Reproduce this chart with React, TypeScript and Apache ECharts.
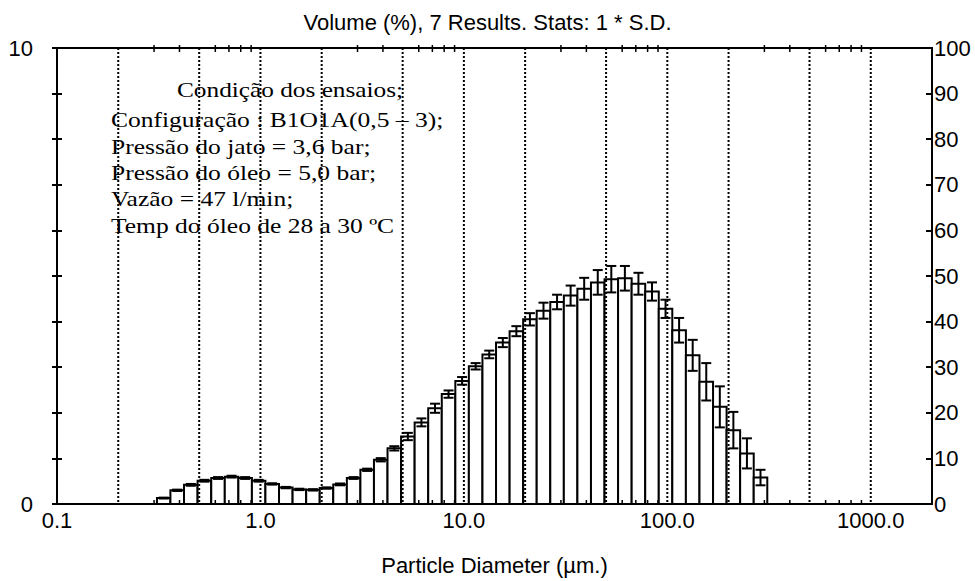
import React, { useEffect, useRef } from 'react';
import * as echarts from 'echarts';

// Bin edges of the size classes (µm)
const binEdges = [
  0.310, 0.361, 0.421, 0.491, 0.573, 0.668, 0.779, 0.908, 1.058, 1.234,
  1.439, 1.678, 1.956, 2.280, 2.659, 3.100, 3.614, 4.214, 4.913, 5.728,
  6.679, 7.787, 9.078, 10.58, 12.34, 14.39, 16.78, 19.56, 22.80, 26.59,
  31.00, 36.14, 42.14, 49.13, 57.28, 66.79, 77.87, 90.78, 105.8, 123.4,
  143.9, 167.8, 195.6, 228.0, 265.9, 310.0,
];

// Volume (%) per class
const volume = [
  0.13, 0.30, 0.42, 0.51, 0.57, 0.60, 0.57, 0.51, 0.44, 0.36,
  0.32, 0.31, 0.35, 0.43, 0.57, 0.75, 0.97, 1.22, 1.48, 1.79,
  2.10, 2.41, 2.70, 3.02, 3.28, 3.54, 3.79, 4.05, 4.24, 4.43,
  4.57, 4.72, 4.86, 4.93, 4.95, 4.83, 4.66, 4.28, 3.81, 3.26,
  2.68, 2.13, 1.62, 1.11, 0.58,
];

// 1 * S.D. per class
const stdDev = [
  0.01, 0.015, 0.02, 0.02, 0.02, 0.02, 0.02, 0.02, 0.015, 0.015,
  0.015, 0.015, 0.015, 0.02, 0.02, 0.025, 0.036, 0.047, 0.08, 0.087,
  0.10, 0.08, 0.084, 0.07, 0.084, 0.10, 0.11, 0.135, 0.175, 0.16,
  0.22, 0.24, 0.27, 0.29, 0.27, 0.24, 0.20, 0.20, 0.27, 0.34,
  0.41, 0.45, 0.40, 0.33, 0.17,
];

const dottedLines = [0.2, 0.5, 1, 2, 5, 10, 20, 50, 100, 200, 500, 1000];
const minorTicks = [
  0.3, 0.4, 0.6, 0.7, 0.8, 0.9,
  3, 4, 6, 7, 8, 9,
  30, 40, 60, 70, 80, 90,
  300, 400, 600, 700, 800, 900,
];

const titleText = 'Volume (%), 7 Results. Stats: 1 * S.D.';
const xAxisName = 'Particle Diameter (µm.)';
const noteHeading = 'Condição dos ensaios;';
const noteLines = [
  'Configuração : B1O1A(0,5 – 3);',
  'Pressão do jato = 3,6 bar;',
  'Pressão do óleo = 5,0 bar;',
  'Vazão = 47 l/min;',
  'Temp do óleo de 28 a 30 ºC',
];

const SANS = '"Liberation Sans", Arial, sans-serif';
const SERIF = '"Liberation Serif", "Times New Roman", serif';

export default function App() {
  const ref = useRef<HTMLDivElement>(null);

  useEffect(() => {
    if (!ref.current) return;
    const chart = echarts.init(ref.current, undefined, { renderer: 'svg' });

    const barData = volume.map((v, i) => [binEdges[i], binEdges[i + 1], v, stdDev[i]]);

    const noteGraphics: any[] = [
      {
        type: 'text',
        x: 177,
        y: 90,
        scaleX: 1.15,
        z: 50,
        style: { text: noteHeading, font: `22px ${SERIF}`, fill: '#000', verticalAlign: 'middle' },
      },
      ...noteLines.map((t, i) => ({
        type: 'text',
        x: 111,
        y: 120 + i * 26.3,
        scaleX: 1.16,
        z: 50,
        style: { text: t, font: `22px ${SERIF}`, fill: '#000', verticalAlign: 'middle' },
      })),
    ];

    chart.setOption({
      animation: false,
      backgroundColor: '#fff',
      title: {
        text: titleText,
        left: 'center',
        top: 6,
        textStyle: { fontFamily: SANS, fontSize: 22, fontWeight: 'normal', color: '#000' },
      },
      grid: {
        left: 57,
        right: 43,
        top: 48,
        bottom: 75,
        show: true,
        borderColor: '#000',
        borderWidth: 2,
        backgroundColor: 'transparent',
      },
      xAxis: {
        type: 'log',
        logBase: 10,
        min: 0.1,
        max: 2000,
        name: xAxisName,
        nameLocation: 'middle',
        nameGap: 50,
        nameTextStyle: { fontFamily: SANS, fontSize: 22, color: '#000' },
        axisLine: { show: true, lineStyle: { color: '#000', width: 2 } },
        axisTick: { show: false },
        splitLine: { show: false },
        minorTick: { show: false },
        axisLabel: {
          margin: 5,
          fontFamily: SANS,
          fontSize: 22,
          color: '#000',
          showMaxLabel: false,
          formatter: (v: number) => {
            const l = Math.log10(v);
            if (Math.abs(l - Math.round(l)) > 1e-6) return '';
            return Math.pow(10, Math.round(l)).toFixed(1);
          },
        },
      },
      yAxis: [
        {
          type: 'value',
          min: 0,
          max: 10,
          interval: 1,
          position: 'left',
          axisLine: { show: true, lineStyle: { color: '#000', width: 2 } },
          axisTick: { show: true, inside: false, length: 5, lineStyle: { color: '#000', width: 2 } },
          splitLine: { show: false },
          axisLabel: {
            margin: 24,
            fontFamily: SANS,
            fontSize: 22,
            color: '#000',
            formatter: (v: number) => (v === 0 || v === 10 ? String(v) : ''),
          },
        },
        {
          type: 'value',
          min: 0,
          max: 100,
          interval: 10,
          position: 'right',
          axisLine: { show: true, lineStyle: { color: '#000', width: 2 } },
          axisTick: { show: true, inside: true, length: 6, lineStyle: { color: '#000', width: 2 } },
          splitLine: { show: false },
          axisLabel: { margin: 2, fontFamily: SANS, fontSize: 22, color: '#000' },
        },
        {
          type: 'value',
          min: 0,
          max: 10,
          interval: 1,
          position: 'left',
          axisLine: { show: false },
          axisTick: { show: true, inside: true, length: 5, lineStyle: { color: '#000', width: 2 } },
          splitLine: { show: false },
          axisLabel: { show: false },
        },
      ],
      graphic: noteGraphics,
      series: [
        {
          type: 'custom',
          name: 'bars',
          xAxisIndex: 0,
          yAxisIndex: 0,
          encode: { x: [0, 1], y: 2 },
          data: barData,
          z: 2,
          renderItem: (params: any, api: any) => {
            const lo = api.value(0);
            const hi = api.value(1);
            const v = api.value(2);
            const p1 = api.coord([lo, v]);
            const p2 = api.coord([hi, 0]);
            return {
              type: 'rect',
              shape: { x: p1[0], y: p1[1], width: p2[0] - p1[0], height: p2[1] - p1[1] },
              style: { fill: '#fff', stroke: '#000', lineWidth: 2 },
            };
          },
        },
        {
          type: 'custom',
          name: 'sd',
          xAxisIndex: 0,
          yAxisIndex: 0,
          encode: { x: [0, 1], y: 2 },
          data: barData,
          z: 3,
          renderItem: (params: any, api: any) => {
            const lo = api.value(0);
            const hi = api.value(1);
            const v = api.value(2);
            const sd = api.value(3);
            const xc = api.coord([Math.sqrt(lo * hi), v])[0];
            const yTop = api.coord([lo, v + sd])[1];
            const yBot = api.coord([lo, Math.max(0, v - sd)])[1];
            const cap = 5;
            const st = { stroke: '#000', lineWidth: 2 };
            return {
              type: 'group',
              children: [
                { type: 'line', shape: { x1: xc, y1: yTop, x2: xc, y2: yBot }, style: st },
                { type: 'line', shape: { x1: xc - cap, y1: yTop, x2: xc + cap, y2: yTop }, style: st },
                { type: 'line', shape: { x1: xc - cap, y1: yBot, x2: xc + cap, y2: yBot }, style: st },
              ],
            };
          },
        },
        {
          type: 'custom',
          name: 'gridlines',
          xAxisIndex: 0,
          yAxisIndex: 0,
          encode: { x: 0, y: 1 },
          data: dottedLines.map((d) => [d, 0]),
          z: 4,
          silent: true,
          renderItem: (params: any, api: any) => {
            const x = api.coord([api.value(0), 0])[0];
            const cs = params.coordSys;
            return {
              type: 'line',
              shape: { x1: x, y1: cs.y, x2: x, y2: cs.y + cs.height },
              style: { stroke: '#000', lineWidth: 2, lineDash: [2, 2] },
            };
          },
        },
        {
          type: 'custom',
          name: 'minorticks',
          xAxisIndex: 0,
          yAxisIndex: 0,
          encode: { x: 0, y: 1 },
          data: minorTicks.map((d) => [d, 0]),
          z: 4,
          silent: true,
          renderItem: (params: any, api: any) => {
            const x = api.coord([api.value(0), 0])[0];
            const cs = params.coordSys;
            const st = { stroke: '#000', lineWidth: 1.5 };
            return {
              type: 'group',
              children: [
                { type: 'line', shape: { x1: x, y1: cs.y - 3, x2: x, y2: cs.y + 4 }, style: st },
                { type: 'line', shape: { x1: x, y1: cs.y + cs.height - 4, x2: x, y2: cs.y + cs.height }, style: st },
              ],
            };
          },
        },
      ],
    });

    return () => chart.dispose();
  }, []);

  return (
    <div
      ref={ref}
      style={{ position: 'absolute', left: 0, top: 0, width: 975, height: 581, background: '#fff' }}
    />
  );
}
